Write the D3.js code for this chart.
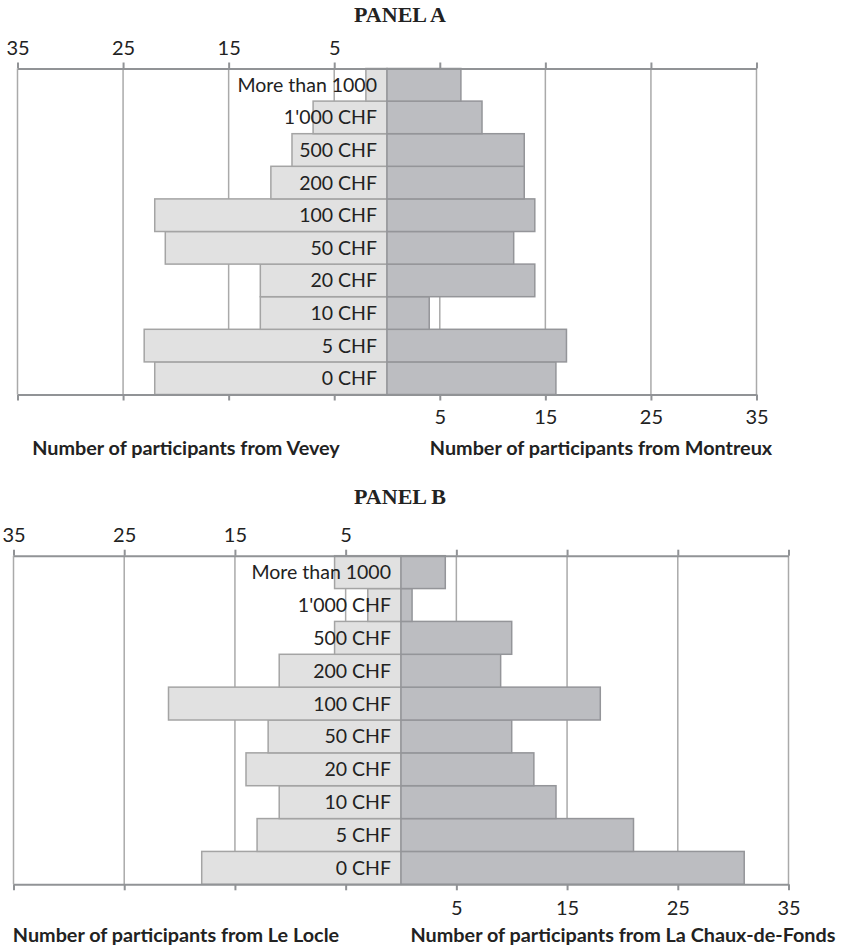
<!DOCTYPE html>
<html>
<head>
<meta charset="utf-8">
<script src="https://cdn.jsdelivr.net/npm/d3@7"></script>
<style>
  html, body { margin: 0; padding: 0; background: #fff; }
  svg { display: block; }
  text { font-family: Lato, "Open Sans", sans-serif; fill: #222; }
</style>
</head>
<body>
<svg id="chart" width="841" height="950"></svg>
<script>
// Categories, bottom to top as in the picture
const categories = ["0 CHF", "5 CHF", "10 CHF", "20 CHF", "50 CHF", "100 CHF", "200 CHF", "500 CHF", "1'000 CHF", "More than 1000"];

// Panel A
const vevey    = [22, 23, 12, 12, 21, 22, 11, 9, 7, 2];
const montreux = [16, 17, 4, 14, 12, 14, 13, 13, 9, 7];
// Panel B
const leLocle  = [18, 13, 11, 14, 12, 21, 11, 6, 3, 6];
const chaux    = [31, 21, 14, 12, 10, 18, 9, 10, 1, 4];

const tickValues = [-35, -25, -15, -5, 5, 15, 25, 35];
const panelTitles = ["PANEL A", "PANEL B"];
const leftTitles  = ["Number of participants from Vevey", "Number of participants from Le Locle"];
const rightTitles = ["Number of participants from Montreux", "Number of participants from La Chaux-de-Fonds"];

const panels = [
  { title: panelTitles[0], left: vevey, right: montreux, leftTitle: leftTitles[0], rightTitle: rightTitles[0],
    x0: 17.5, x1: 756.5, yTop: 68.5, yBot: 394.5, titleY: 22, topLabelY: 55, botLabelY: 424, axisTitleY: 455,
    leftTitleX: 186, rightTitleX: 601 },
  { title: panelTitles[1], left: leLocle, right: chaux, leftTitle: leftTitles[1], rightTitle: rightTitles[1],
    x0: 13.5, x1: 788.5, yTop: 555.7, yBot: 884.3, titleY: 504, topLabelY: 541.7, botLabelY: 915, axisTitleY: 941.7,
    leftTitleX: 176, rightTitleX: 623 }
];

const svg = d3.select("#chart");
const order = categories.slice().reverse(); // top to bottom

const C = {
  leftFill: "#e1e1e1", leftStroke: "#a4a4a4",
  rightFill: "#bcbdc1", rightStroke: "#949599",
  grid: "#aaaaaa", axis: "#919396"
};
const FS = 19.5;

panels.forEach(p => {
  const g = svg.append("g");
  const x = d3.scaleLinear().domain([-35, 35]).range([p.x0, p.x1]);
  const y = d3.scaleBand().domain(order).range([p.yTop, p.yBot]).padding(0);

  // Panel title
  g.append("text")
    .attr("x", 400).attr("y", p.titleY)
    .attr("text-anchor", "middle")
    .style("font-family", "'Liberation Serif', 'Times New Roman', serif")
    .style("font-weight", "bold").style("font-size", "22px")
    .text(p.title);

  // Gridlines
  g.append("g").selectAll("line").data(tickValues).join("line")
    .attr("x1", d => x(d)).attr("x2", d => x(d))
    .attr("y1", p.yTop).attr("y2", p.yBot)
    .attr("stroke", C.grid).attr("stroke-width", 1.5);

  // Bars
  const leftData = categories.map((c, i) => ({ c, v: p.left[i] }));
  const rightData = categories.map((c, i) => ({ c, v: p.right[i] }));
  g.append("g").selectAll("rect").data(leftData).join("rect")
    .attr("x", d => x(-d.v)).attr("width", d => x(0) - x(-d.v))
    .attr("y", d => y(d.c)).attr("height", y.bandwidth())
    .attr("fill", C.leftFill).attr("stroke", C.leftStroke).attr("stroke-width", 1.5);
  g.append("g").selectAll("rect").data(rightData).join("rect")
    .attr("x", x(0)).attr("width", d => x(d.v) - x(0))
    .attr("y", d => y(d.c)).attr("height", y.bandwidth())
    .attr("fill", C.rightFill).attr("stroke", C.rightStroke).attr("stroke-width", 1.5);

  // Axes
  const top = g.append("g").attr("transform", `translate(0,${p.yTop})`)
    .call(d3.axisTop(x).tickValues(tickValues).tickSize(6).tickSizeOuter(0)
      .tickFormat(d => d < 0 ? Math.abs(d) : ""));
  const bot = g.append("g").attr("transform", `translate(0,${p.yBot})`)
    .call(d3.axisBottom(x).tickValues(tickValues).tickSize(6).tickSizeOuter(0)
      .tickFormat(d => d > 0 ? d : ""));
  [top, bot].forEach(ax => {
    ax.select(".domain").attr("stroke", C.axis).attr("stroke-width", 2);
    ax.selectAll(".tick line").attr("stroke", C.axis).attr("stroke-width", 2);
    ax.selectAll(".tick text").attr("font-family", null).style("font-size", "20px").attr("fill", "#222")
      .attr("dy", 0);
  });
  top.selectAll(".tick text").attr("y", p.topLabelY - p.yTop);
  bot.selectAll(".tick text").attr("y", p.botLabelY - p.yBot);

  // Category labels
  g.append("g").selectAll("text").data(order).join("text")
    .attr("x", x(0) - 10)
    .attr("y", d => y(d) + y.bandwidth() / 2)
    .attr("dy", "0.36em")
    .attr("text-anchor", "end")
    .style("font-size", FS + "px")
    .text(d => d);

  // Axis titles
  g.append("text").attr("x", p.leftTitleX).attr("y", p.axisTitleY)
    .attr("text-anchor", "middle").style("font-weight", "bold").style("font-size", "19.8px")
    .text(p.leftTitle);
  g.append("text").attr("x", p.rightTitleX).attr("y", p.axisTitleY)
    .attr("text-anchor", "middle").style("font-weight", "bold").style("font-size", "19.8px")
    .text(p.rightTitle);
});
</script>
</body>
</html>
